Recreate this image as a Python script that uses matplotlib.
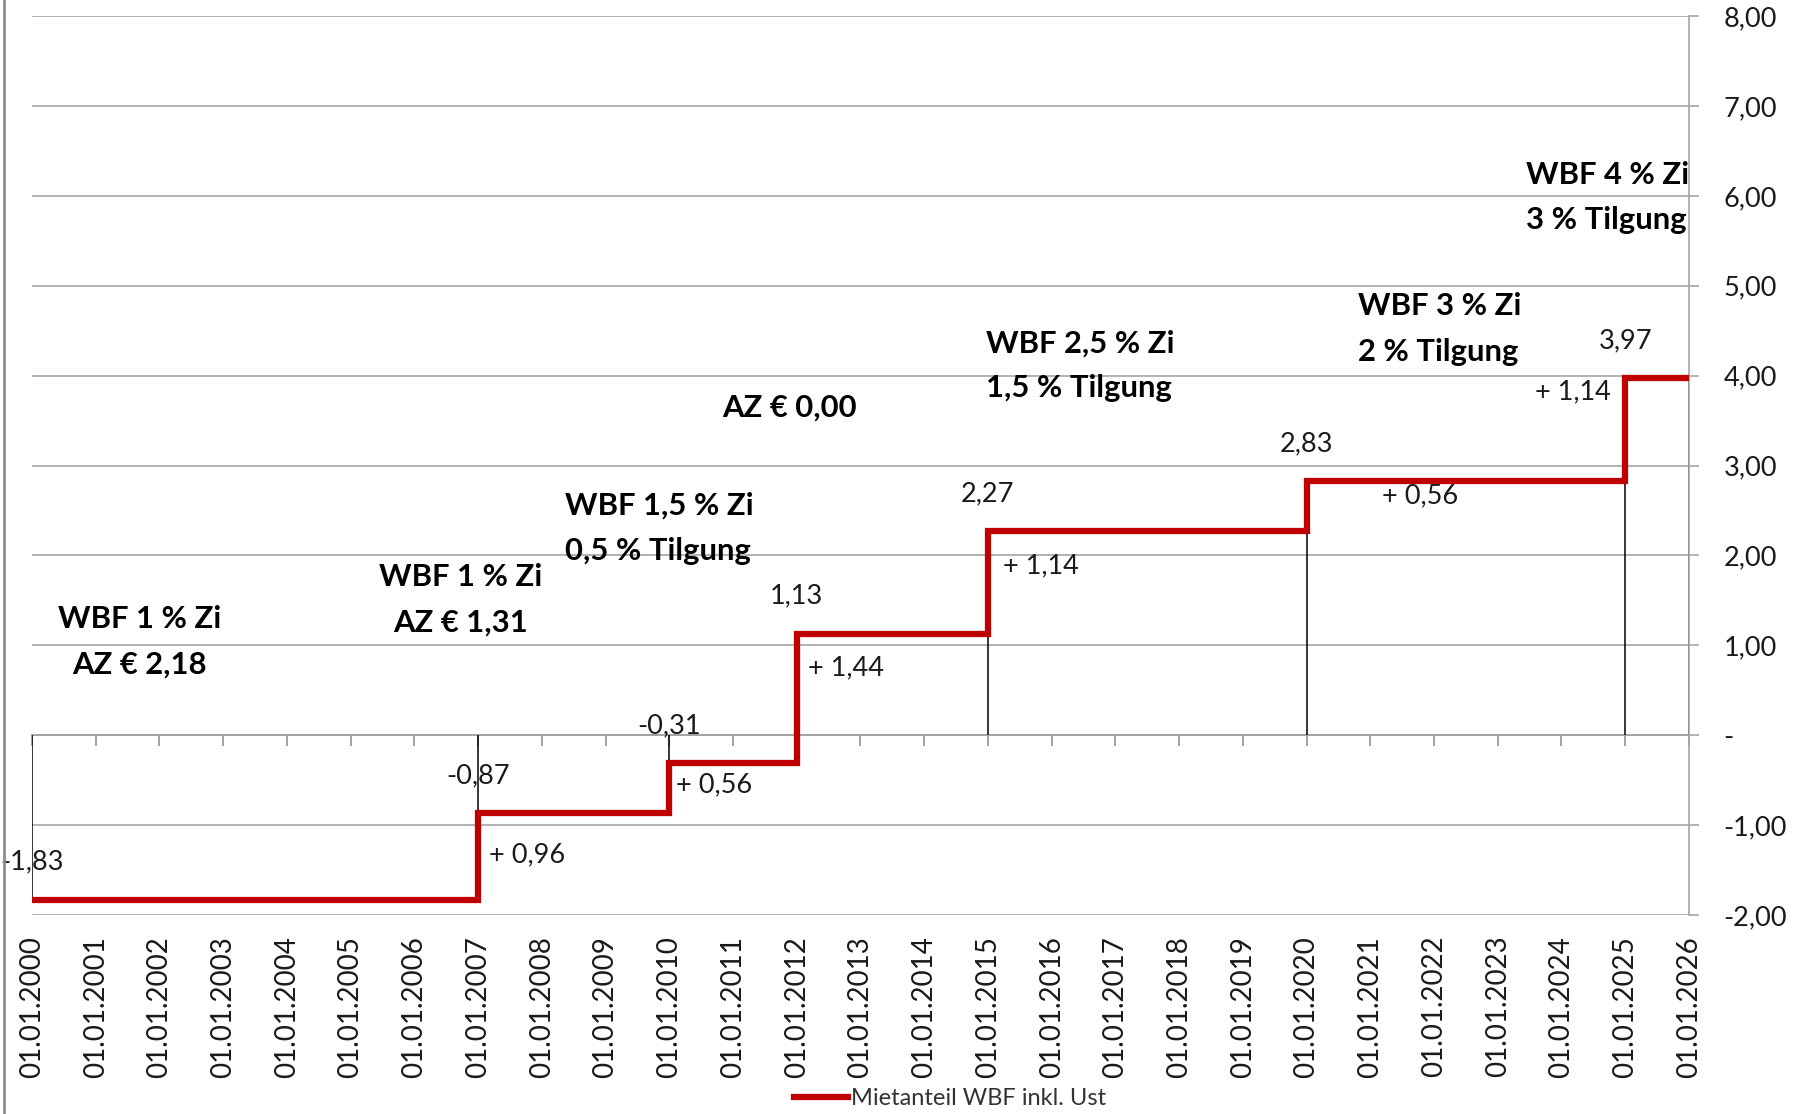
import matplotlib
matplotlib.use('Agg')
import matplotlib.pyplot as plt
from matplotlib.lines import Line2D

plt.rcParams['font.family'] = ['Lato', 'DejaVu Sans']

# step dates (years, always 01.01.) and Mietanteil values
years = [2000, 2007, 2010, 2012, 2015, 2020, 2025, 2026]
values = [-1.83, -0.87, -0.31, 1.13, 2.27, 2.83, 3.97, 3.97]
n_labeled = 7  # the last point (2026) has no value label

# increase labels between the steps
delta_text = ['+ 0,96', '+ 0,56', '+ 1,44', '+ 1,14', '+ 0,56', '+ 1,14']
delta_x = [2007.17, 2010.10, 2012.17, 2015.24, 2021.19, 2023.59]
delta_y = [-1.33, -0.55, 0.75, 1.88, 2.66, 3.82]

# financing notes (text, x, y, alignment)
notes = ['WBF 1 % Zi\nAZ € 2,18', 'WBF 1 % Zi\nAZ € 1,31', 'WBF 1,5 % Zi\n0,5 % Tilgung',
         'AZ € 0,00', 'WBF 2,5 % Zi\n1,5 % Tilgung', 'WBF 3 % Zi\n2 % Tilgung',
         'WBF 4 % Zi\n3 % Tilgung']
notes_x = [2001.69, 2006.72, 2008.36, 2011.88, 2014.97, 2020.81, 2023.45]
notes_y = [1.04, 1.51, 2.30, 3.65, 4.11, 4.52, 5.98]
notes_ha = ['center', 'center', 'left', 'center', 'left', 'left', 'left']

y_ticks = [-2, -1, 0, 1, 2, 3, 4, 5, 6, 7, 8]
y_labels = ['-2,00', '-1,00', '-', '1,00', '2,00', '3,00', '4,00', '5,00', '6,00', '7,00', '8,00']
x_ticks = list(range(2000, 2027))
x_labels = ['01.01.%d' % y for y in x_ticks]

red = '#C00000'
grid = '#A6A6A6'
txt = '#1a1a1a'

fig = plt.figure(figsize=(17.96, 11.14), dpi=100)
ax = fig.add_axes([0.0178, 0.1786, 0.9226, 0.807])

ax.set_xlim(2000, 2026)
ax.set_ylim(-2, 8)

# gridlines
ax.set_yticks(y_ticks)
ax.set_yticklabels(y_labels)
ax.yaxis.grid(True, color=grid, lw=1.2)
ax.set_axisbelow(True)

for s in ['top', 'left', 'bottom']:
    ax.spines[s].set_visible(False)
ax.spines['right'].set_color(grid)
ax.spines['right'].set_linewidth(1.2)

ax.yaxis.tick_right()
ax.tick_params(axis='y', which='both', direction='out', length=7, width=1.2,
               color=grid, labelsize=19.5, labelcolor=txt, pad=18)

ax.set_xticks(x_ticks)
ax.set_xticklabels(x_labels, rotation=90, va='top', ha='center')
ax.tick_params(axis='x', length=0, labelsize=20, labelcolor=txt, pad=15)

# axis line at zero with ticks
sec = ax.secondary_xaxis(0.2)
sec.set_xticks(x_ticks)
sec.set_xticklabels([])
sec.tick_params(axis='x', direction='out', length=8, width=1.2, color='#909090')
sec.spines['bottom'].set_color('#909090')
sec.spines['bottom'].set_linewidth(1.2)

# drop lines
ax.vlines(years, 0, values, color='black', lw=1.1, zorder=2)

# the step line
ax.step(years, values, where='post', color=red, lw=4.5, zorder=3,
        solid_joinstyle='miter', label='Mietanteil WBF inkl. Ust')

# value labels
for x, v in zip(years[:n_labeled], values[:n_labeled]):
    ax.annotate(('%.2f' % v).replace('.', ','), (x, v), xytext=(0, 27),
                textcoords='offset points', ha='center', va='center',
                fontsize=19.5, color=txt, zorder=4)

for t, x, y in zip(delta_text, delta_x, delta_y):
    ax.text(x, y, t, ha='left', va='center', fontsize=19.5, color=txt, zorder=4)

for t, x, y, h in zip(notes, notes_x, notes_y, notes_ha):
    ax.text(x, y, t, ha=h, va='center', fontsize=22.3, fontweight='bold',
            color='black', linespacing=1.75, multialignment=h, zorder=4)

leg = fig.legend(loc='lower center', bbox_to_anchor=(0.529, -0.015), frameon=False,
                 fontsize=17, handlelength=2.3, handletextpad=0.1)
for t in leg.get_texts():
    t.set_color('#333333')

# chart frame edge on the left
fig.add_artist(Line2D([0.0025, 0.0025], [0, 1], transform=fig.transFigure,
                      color='#8c8c8c', lw=2))

plt.savefig('out.png', dpi=100)
